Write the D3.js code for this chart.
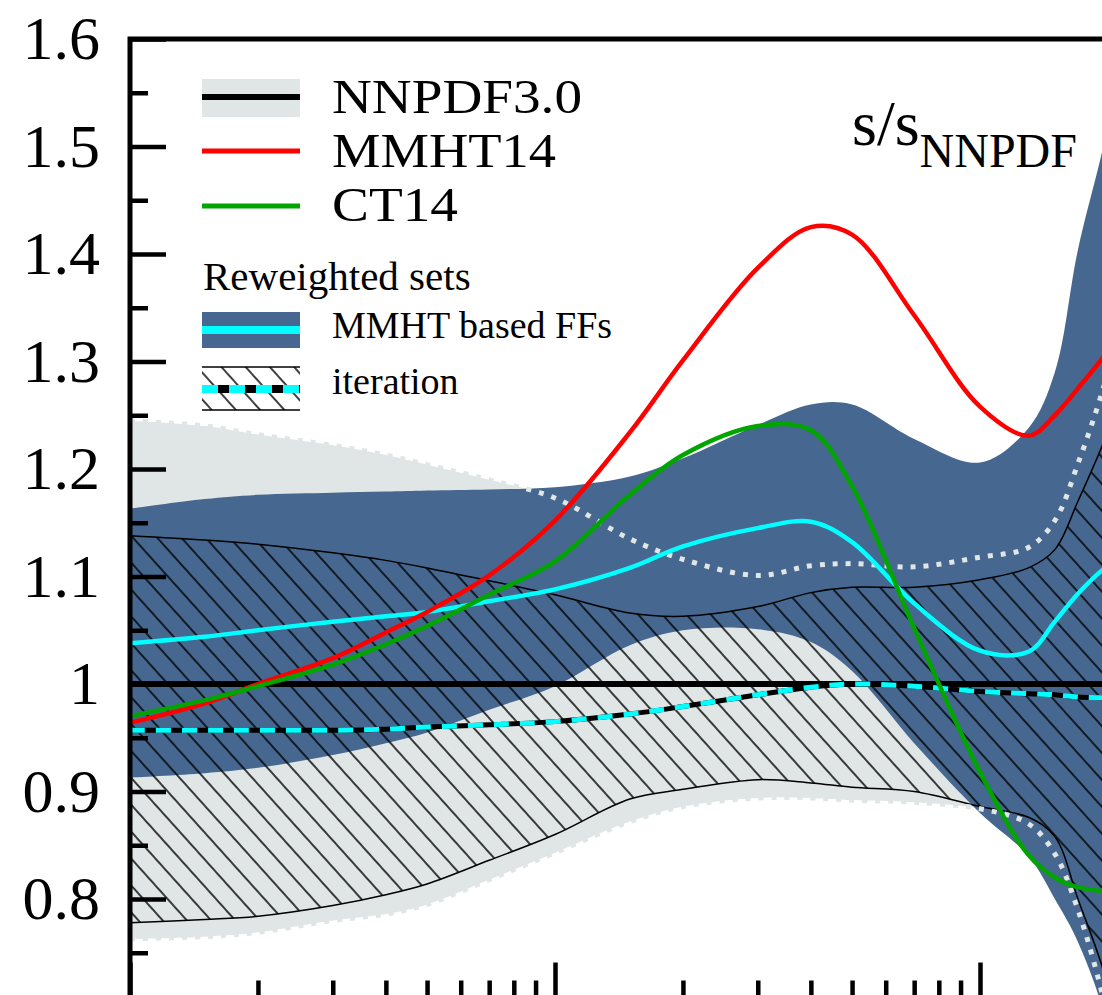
<!DOCTYPE html>
<html>
<head>
<meta charset="utf-8">
<script src="https://cdn.jsdelivr.net/npm/d3@7"></script>
<style>
  html, body { margin: 0; padding: 0; background: #fff; overflow: hidden; }
  svg { display: block; }
  text { font-family: "Liberation Serif", "DejaVu Serif", "Times New Roman", serif; fill: #000; }
</style>
</head>
<body>
<div id="chart"></div>
<script>
// x grid (log scale) shared by every series
const xValues = [0.001, 0.0015, 0.002, 0.003, 0.004, 0.005, 0.007, 0.01, 0.015, 0.02,
                 0.03, 0.04, 0.05, 0.07, 0.1, 0.13, 0.15, 0.17, 0.2, 0.25];

// NNPDF3.0 band
const nnpdfUpper = [1.245, 1.240, 1.232, 1.222, 1.213, 1.204, 1.190, 1.173, 1.135, 1.116,
                    1.101, 1.110, 1.112, 1.109, 1.118, 1.127, 1.152, 1.205, 1.29, 1.45];
const nnpdfLower = [0.763, 0.765, 0.769, 0.780, 0.786, 0.795, 0.818, 0.843, 0.872, 0.886,
                    0.894, 0.894, 0.892, 0.890, 0.884, 0.870, 0.842, 0.790, 0.69, 0.50];

// reweighted: MMHT based FFs
const mmhtFFUpper = [1.163, 1.172, 1.176, 1.178, 1.179, 1.180, 1.181, 1.183, 1.193, 1.210,
                     1.241, 1.260, 1.260, 1.228, 1.206, 1.238, 1.290, 1.404, 1.52, 1.75];
const mmhtFFLower = [0.913, 0.917, 0.922, 0.934, 0.945, 0.955, 0.976, 0.998, 1.036, 1.050,
                     1.051, 1.039, 1.012, 0.945, 0.880, 0.840, 0.800, 0.760, 0.68, 0.45];
const mmhtFFCentral = [1.038, 1.044, 1.050, 1.058, 1.063, 1.067, 1.077, 1.088, 1.108, 1.128,
                       1.145, 1.151, 1.132, 1.075, 1.031, 1.030, 1.058, 1.084, 1.110, 1.13];

// reweighted: iteration
const iterUpper = [1.138, 1.134, 1.130, 1.122, 1.115, 1.108, 1.096, 1.083, 1.066, 1.063,
                   1.072, 1.085, 1.090, 1.090, 1.097, 1.108, 1.125, 1.170, 1.235, 1.35];
const iterLower = [0.778, 0.781, 0.784, 0.794, 0.804, 0.814, 0.836, 0.860, 0.893, 0.902,
                   0.911, 0.908, 0.904, 0.900, 0.886, 0.876, 0.858, 0.800, 0.720, 0.55];
const iterCentral = [0.957, 0.957, 0.957, 0.957, 0.958, 0.960, 0.962, 0.965, 0.972, 0.979,
                     0.990, 0.997, 1.000, 0.998, 0.993, 0.991, 0.990, 0.988, 0.987, 0.985];

// other PDF sets
const mmht14 = [0.964, 0.982, 1.000, 1.024, 1.048, 1.067, 1.101, 1.152, 1.234, 1.301,
                1.387, 1.425, 1.418, 1.343, 1.258, 1.231, 1.250, 1.275, 1.31, 1.37];
const ct14 = [0.970, 0.985, 0.998, 1.018, 1.037, 1.054, 1.083, 1.114, 1.176, 1.213,
              1.240, 1.236, 1.184, 1.052, 0.918, 0.841, 0.820, 0.811, 0.808, 0.82];

const yMajor = [0.8, 0.9, 1.0, 1.1, 1.2, 1.3, 1.4, 1.5, 1.6];
const yMinor = [0.75, 0.85, 0.95, 1.05, 1.15, 1.25, 1.35, 1.45, 1.55];
const xMajor = [0.001, 0.01, 0.1, 1];

const W = 1102, H = 995;
const grey = "#e0e5e5", blue = "#46678f";

const svg = d3.select("#chart").append("svg")
    .attr("width", W)
    .attr("height", H);

const x = d3.scaleLog().domain([1e-3, 1]).range([130, 1405]);
const y = d3.scaleLinear().domain([0.7, 1.6]).range([1006.5, 39]);

// hatch pattern for the iteration band
const defs = svg.append("defs");
const pat = defs.append("pattern")
    .attr("id", "hatch")
    .attr("patternUnits", "userSpaceOnUse")
    .attr("width", 18).attr("height", 18)
    .attr("patternTransform", "rotate(48)");
pat.append("line")
    .attr("x1", 0).attr("y1", 9).attr("x2", 18).attr("y2", 9)
    .attr("stroke", "#000").attr("stroke-width", 1.5);

defs.append("clipPath").attr("id", "plotclip")
    .append("rect")
    .attr("x", 130).attr("y", 39)
    .attr("width", 1275).attr("height", 967.5);

const rows = xValues.map((xv, i) => ({
    x: xv,
    nU: nnpdfUpper[i], nL: nnpdfLower[i],
    bU: mmhtFFUpper[i], bL: mmhtFFLower[i], bC: mmhtFFCentral[i],
    iU: iterUpper[i], iL: iterLower[i], iC: iterCentral[i],
    red: mmht14[i], green: ct14[i]
}));

const curve = d3.curveCatmullRom.alpha(0.5);
const band = (lo, hi) => d3.area()
    .x(d => x(d.x)).y0(d => y(d[lo])).y1(d => y(d[hi]))
    .curve(curve);
const line = key => d3.line()
    .x(d => x(d.x)).y(d => y(d[key]))
    .curve(curve);

const plot = svg.append("g").attr("clip-path", "url(#plotclip)");

// NNPDF band
plot.append("path").datum(rows).attr("d", band("nL", "nU")).attr("fill", grey);
// MMHT based FFs band
plot.append("path").datum(rows).attr("d", band("bL", "bU")).attr("fill", blue);
// iteration band (hatched, transparent)
plot.append("path").datum(rows).attr("d", band("iL", "iU")).attr("fill", "url(#hatch)");
["iU", "iL"].forEach(k => {
    plot.append("path").datum(rows).attr("d", line(k))
        .attr("fill", "none").attr("stroke", "#000").attr("stroke-width", 1.5);
});
// dotted NNPDF band edges
["nU", "nL"].forEach(k => {
    plot.append("path").datum(rows).attr("d", line(k))
        .attr("fill", "none").attr("stroke", grey)
        .attr("stroke-width", 5).attr("stroke-dasharray", "5,8");
});

// NNPDF central = 1
plot.append("line")
    .attr("x1", x(1e-3)).attr("x2", x(1))
    .attr("y1", y(1)).attr("y2", y(1))
    .attr("stroke", "#000").attr("stroke-width", 6);

// iteration central: black with cyan dashes
plot.append("path").datum(rows).attr("d", line("iC"))
    .attr("fill", "none").attr("stroke", "#000").attr("stroke-width", 5);
plot.append("path").datum(rows).attr("d", line("iC"))
    .attr("fill", "none").attr("stroke", "#00ffff").attr("stroke-width", 5)
    .attr("stroke-dasharray", "15,11");

// MMHT FFs central
plot.append("path").datum(rows).attr("d", line("bC"))
    .attr("fill", "none").attr("stroke", "#00ffff").attr("stroke-width", 4.5);

// MMHT14 and CT14
plot.append("path").datum(rows).attr("d", line("red"))
    .attr("fill", "none").attr("stroke", "#ff0000").attr("stroke-width", 4.5);
plot.append("path").datum(rows).attr("d", line("green"))
    .attr("fill", "none").attr("stroke", "#00a500").attr("stroke-width", 4.5);

// axes: ticks point into the frame
const yAxis = svg.append("g")
    .attr("transform", "translate(130,0)")
    .call(d3.axisLeft(y).tickValues(yMajor).tickSize(-36).tickPadding(30)
        .tickFormat(d => d === 1 ? "1" : d3.format(".1f")(d)));
yAxis.attr("font-size", 62).attr("font-family", null);
yAxis.select(".domain").remove();
yAxis.selectAll(".tick line").attr("stroke-width", 4.5);

const yAxisMinor = svg.append("g")
    .attr("transform", "translate(130,0)")
    .call(d3.axisLeft(y).tickValues(yMinor).tickSize(-18).tickFormat(""));
yAxisMinor.select(".domain").remove();
yAxisMinor.selectAll(".tick line").attr("stroke-width", 4.5);

const xMinor = [];
[0.001, 0.01, 0.1].forEach(dec => {
    for (let m = 2; m <= 9; m++) xMinor.push(dec * m);
});

const xAxis = svg.append("g")
    .attr("transform", "translate(0," + y(0.7) + ")")
    .call(d3.axisBottom(x).tickValues(xMajor).tickSize(-44).tickFormat(""));
xAxis.select(".domain").remove();
xAxis.selectAll(".tick line").attr("stroke-width", 4.5);

const xAxisMinor = svg.append("g")
    .attr("transform", "translate(0," + y(0.7) + ")")
    .call(d3.axisBottom(x).tickValues(xMinor).tickSize(-26).tickFormat(""));
xAxisMinor.select(".domain").remove();
xAxisMinor.selectAll(".tick line").attr("stroke-width", 4.5);

// frame
svg.append("rect")
    .attr("x", 130).attr("y", 39)
    .attr("width", 1275).attr("height", y(0.7) - 39)
    .attr("fill", "none").attr("stroke", "#000").attr("stroke-width", 5);

// title
const title = svg.append("text").attr("x", 852).attr("y", 145);
title.append("tspan").attr("font-size", 64).text("s/s");
title.append("tspan").attr("font-size", 48).attr("dy", 22).text("NNPDF");

// legend
const lg = svg.append("g");
const sx0 = 202, sx1 = 300, tx = 332;

lg.append("rect").attr("x", sx0).attr("y", 79).attr("width", sx1 - sx0).attr("height", 38)
    .attr("fill", grey);
lg.append("line").attr("x1", sx0).attr("x2", sx1).attr("y1", 97).attr("y2", 97)
    .attr("stroke", "#000").attr("stroke-width", 6);
lg.append("text").attr("x", tx).attr("y", 113).attr("font-size", 48)
    .attr("textLength", 250).attr("lengthAdjust", "spacingAndGlyphs").text("NNPDF3.0");

lg.append("line").attr("x1", sx0).attr("x2", sx1).attr("y1", 151).attr("y2", 151)
    .attr("stroke", "#ff0000").attr("stroke-width", 5);
lg.append("text").attr("x", tx).attr("y", 167).attr("font-size", 48)
    .attr("textLength", 224).attr("lengthAdjust", "spacingAndGlyphs").text("MMHT14");

lg.append("line").attr("x1", sx0).attr("x2", sx1).attr("y1", 206).attr("y2", 206)
    .attr("stroke", "#00a500").attr("stroke-width", 5);
lg.append("text").attr("x", tx).attr("y", 221).attr("font-size", 48)
    .attr("textLength", 126).attr("lengthAdjust", "spacingAndGlyphs").text("CT14");

lg.append("text").attr("x", 203).attr("y", 290).attr("font-size", 41).text("Reweighted sets");

lg.append("rect").attr("x", sx0).attr("y", 312).attr("width", sx1 - sx0).attr("height", 36)
    .attr("fill", blue);
lg.append("line").attr("x1", sx0).attr("x2", sx1).attr("y1", 330).attr("y2", 330)
    .attr("stroke", "#00ffff").attr("stroke-width", 8);
lg.append("text").attr("x", tx).attr("y", 338).attr("font-size", 38).text("MMHT based FFs");

lg.append("rect").attr("x", sx0).attr("y", 367).attr("width", sx1 - sx0).attr("height", 43)
    .attr("fill", "url(#hatch)");
[367, 410].forEach(yy => {
    lg.append("line").attr("x1", sx0).attr("x2", sx1).attr("y1", yy).attr("y2", yy)
        .attr("stroke", "#000").attr("stroke-width", 1.5);
});
lg.append("line").attr("x1", sx0).attr("x2", sx1).attr("y1", 389).attr("y2", 389)
    .attr("stroke", "#000").attr("stroke-width", 8);
lg.append("line").attr("x1", sx0).attr("x2", sx1).attr("y1", 389).attr("y2", 389)
    .attr("stroke", "#00ffff").attr("stroke-width", 8).attr("stroke-dasharray", "16,11");
lg.append("text").attr("x", tx).attr("y", 394).attr("font-size", 38).text("iteration");
</script>
</body>
</html>
